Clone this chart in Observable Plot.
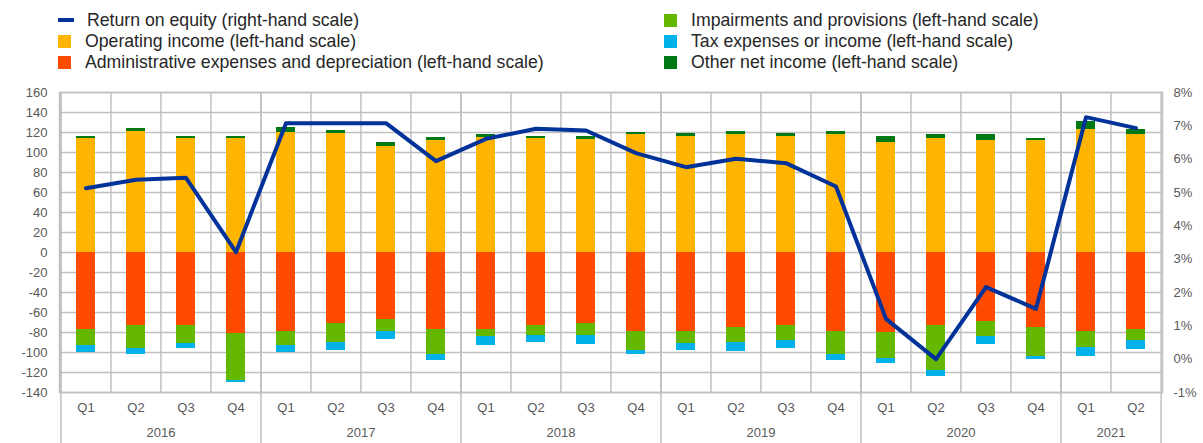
<!DOCTYPE html>
<html>
<head>
<meta charset="utf-8">
<script src="https://cdn.jsdelivr.net/npm/d3@7"></script>
<script src="https://cdn.jsdelivr.net/npm/@observablehq/plot@0.6"></script>
<style>
  html, body { margin: 0; padding: 0; background: #fff; }
  #wrap { position: relative; width: 1203px; height: 443px; overflow: hidden; font-family: "Liberation Sans", Arial, sans-serif; }
  #legend { position: absolute; left: 0; top: 0; width: 1203px; height: 80px; }
  .item { position: absolute; height: 20px; display: flex; align-items: center; }
  .sw { width: 13px; height: 13px; flex: none; }
  .dash { width: 16px; height: 4px; flex: none; }
  .lab { font-size: 19px; color: #262626; white-space: nowrap; transform: scaleX(0.93); transform-origin: left center; line-height: 20px; }
  #chart { position: absolute; left: 0; top: 80px; }
</style>
</head>
<body>
<div id="wrap">
  <div id="legend"></div>
  <div id="chart"></div>
</div>
<script>
// ---- Data ----
const years = ["2016", "2017", "2018", "2019", "2020", "2021"];
const categories = [
  "2016 Q1","2016 Q2","2016 Q3","2016 Q4",
  "2017 Q1","2017 Q2","2017 Q3","2017 Q4",
  "2018 Q1","2018 Q2","2018 Q3","2018 Q4",
  "2019 Q1","2019 Q2","2019 Q3","2019 Q4",
  "2020 Q1","2020 Q2","2020 Q3","2020 Q4",
  "2021 Q1","2021 Q2"
];
const operatingIncome = [114,121,114,114, 120,119,106,112, 115,114,113,118, 116,118,116,118, 110,114,112,112, 123,118];
const otherNetIncome  = [2,3,2,2, 5,3,4,3, 3,2,3,2, 3,3,3,3, 6,4,6,2, 8,5];
const adminExpenses   = [-77,-73,-73,-81, -79,-71,-67,-77, -77,-73,-71,-79, -79,-75,-73,-79, -80,-73,-69,-75, -79,-77];
const impairments     = [-16,-23,-18,-47, -14,-19,-12,-25, -7,-10,-12,-19, -12,-15,-15,-23, -26,-45,-15,-29, -16,-11];
const taxExpenses     = [-7,-6,-5,-2, -7,-8,-8,-6, -9,-7,-9,-4, -7,-9,-8,-6, -5,-6,-8,-3, -9,-9];
const returnOnEquity  = [5.13,5.38,5.44,3.21, 7.08,7.08,7.08,5.94, 6.61,6.91,6.86,6.18, 5.76,6.01,5.88,5.18, 1.21,0.0,2.16,1.51, 7.26,6.93];

const leftTicks = [-140,-120,-100,-80,-60,-40,-20,0,20,40,60,80,100,120,140,160];
const rightTicks = [-1,0,1,2,3,4,5,6,7,8];

const seriesNames = {
  roe: "Return on equity (right-hand scale)",
  op: "Operating income (left-hand scale)",
  adm: "Administrative expenses and depreciation (left-hand scale)",
  imp: "Impairments  and provisions (left-hand scale)",
  tax: "Tax expenses or income (left-hand scale)",
  oth: "Other net income  (left-hand scale)"
};
const colors = {
  roe: "#003299", op: "#ffb400", adm: "#ff4b00", imp: "#65b800", tax: "#00b1ea", oth: "#007816"
};

// ---- Build table ----
const stackOrder = ["op", "oth", "adm", "imp", "tax"];
const seriesValues = { op: operatingIncome, oth: otherNetIncome, adm: adminExpenses, imp: impairments, tax: taxExpenses };
const long = [];
for (const key of stackOrder) {
  categories.forEach((c, i) => long.push({ cat: c, key, value: seriesValues[key][i] }));
}

// Right-hand scale mapping onto left-hand domain
const L0 = -140, L1 = 160, R0 = -1, R1 = 8;
const toLeft = r => L0 + (r - R0) * (L1 - L0) / (R1 - R0);
const toRight = l => R0 + (l - L0) * (R1 - R0) / (L1 - L0);

const roeData = categories.map((c, i) => ({ cat: c, roe: returnOnEquity[i] }));

// ---- Layout ----
const W = 1203, H = 363, mL = 59, mR = 41, mT = 12, mB = 51;
const step = (W - mL - mR) / categories.length;
const gridColor = "#c0c0c0";
const tickColor = "#595959";

const yearStarts = categories.filter(c => c.endsWith("Q1"));
const yearMid = years.map(y => {
  const cs = categories.filter(c => c.startsWith(y));
  return { year: y, cat: cs[cs.length / 2 - 1] };
});

const chart = Plot.plot({
  width: W, height: H,
  marginLeft: mL, marginRight: mR, marginTop: mT, marginBottom: mB,
  style: { fontFamily: "'Liberation Sans', Arial, sans-serif", background: "transparent", overflow: "visible" },
  x: { domain: categories, paddingInner: 0.62, paddingOuter: 0.31, axis: null },
  y: { domain: [L0, L1], axis: null },
  color: { domain: stackOrder, range: stackOrder.map(k => colors[k]) },
  marks: [
    Plot.gridY(leftTicks, { stroke: gridColor, strokeOpacity: 1, strokeWidth: 1.5 }),
    Plot.ruleX(categories, { x: d => d, dx: -step / 2, stroke: gridColor, strokeWidth: 1.5 }),
    Plot.ruleX(yearStarts, { x: d => d, dx: -step / 2, stroke: gridColor, strokeWidth: 1.5, insetBottom: -mB }),
    Plot.ruleX([categories[categories.length - 1]], { x: d => d, dx: step / 2, stroke: gridColor, strokeWidth: 1.5, insetBottom: -mB }),
    Plot.frame({ stroke: gridColor, strokeWidth: 1.5 }),
    Plot.barY(long, Plot.stackY({ x: "cat", y: "value", fill: "key", order: stackOrder })),
    Plot.lineY(roeData, { x: "cat", y: d => toLeft(d.roe), stroke: colors.roe, strokeWidth: 4, strokeLinejoin: "round" }),
    Plot.axisY(leftTicks, { anchor: "left", label: null, tickSize: 0, tickPadding: 12, tickFormat: d => String(d), fontSize: 13, color: tickColor }),
    Plot.axisY(rightTicks.map(toLeft), { anchor: "right", label: null, tickSize: 0, tickPadding: 11, tickFormat: v => Math.round(toRight(v)) + "%", fontSize: 13, color: tickColor }),
    Plot.text(categories, { x: d => d, text: d => d.split(" ")[1], frameAnchor: "bottom", dy: 19, fontSize: 13, fill: tickColor }),
    Plot.text(yearMid, { x: "cat", text: "year", frameAnchor: "bottom", dx: step / 2, dy: 44, fontSize: 13, fill: tickColor })
  ]
});
document.getElementById("chart").appendChild(chart);

// ---- Legend ----
const legendItems = [
  { key: "roe", left: 58, top: 10, line: true },
  { key: "op", left: 58, top: 31 },
  { key: "adm", left: 58, top: 52 },
  { key: "imp", left: 664, top: 10 },
  { key: "tax", left: 664, top: 31 },
  { key: "oth", left: 664, top: 52 }
];
const legend = document.getElementById("legend");
for (const it of legendItems) {
  const div = document.createElement("div");
  div.className = "item";
  div.style.left = it.left + "px";
  div.style.top = it.top + "px";
  const sw = document.createElement("span");
  sw.className = it.line ? "dash" : "sw";
  sw.style.background = colors[it.key];
  sw.style.marginRight = (it.line ? 13 : 14) + "px";
  const lab = document.createElement("span");
  lab.className = "lab";
  lab.textContent = seriesNames[it.key];
  div.appendChild(sw);
  div.appendChild(lab);
  legend.appendChild(div);
}
</script>
</body>
</html>
